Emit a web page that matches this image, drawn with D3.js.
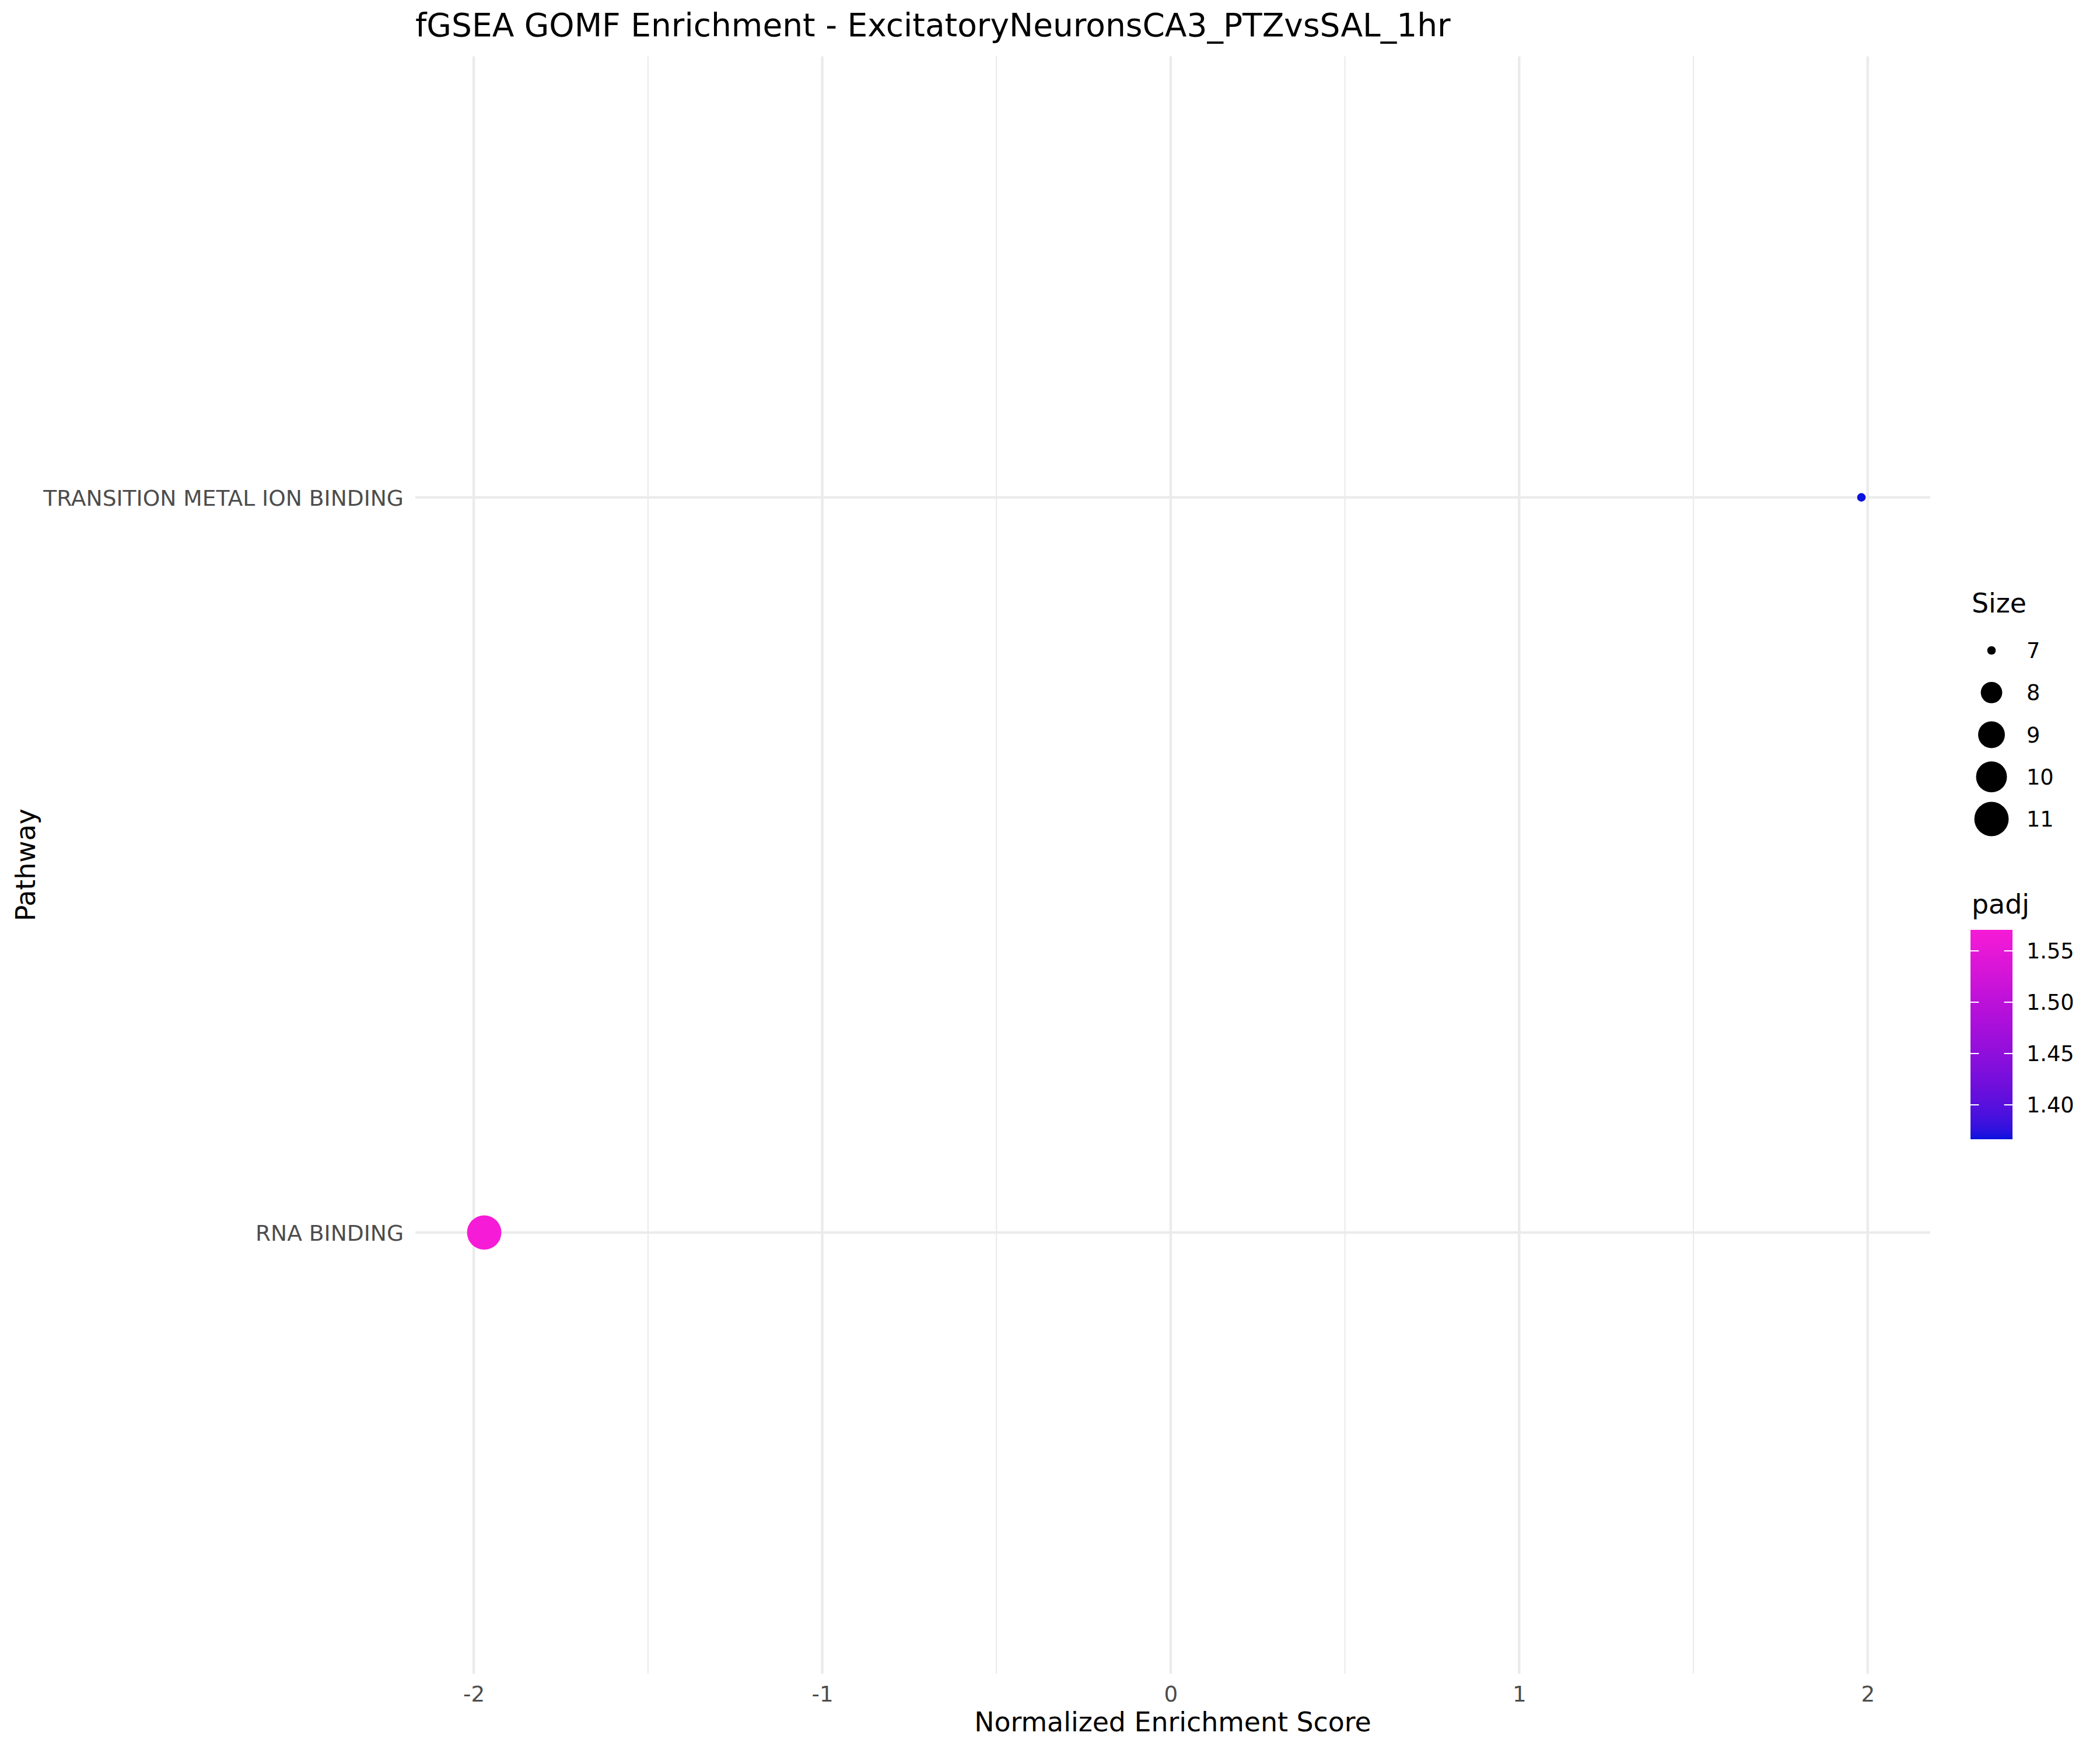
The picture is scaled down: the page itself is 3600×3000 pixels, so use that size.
<!DOCTYPE html>
<html>
<head>
<meta charset="utf-8">
<script src="https://cdn.jsdelivr.net/npm/d3@7"></script>
<style>
  html, body { margin: 0; padding: 0; background: #ffffff; }
  text { font-family: "DejaVu Sans", sans-serif; }
</style>
</head>
<body>
<svg id="chart" width="3600" height="3000"></svg>
<script>
// ---- data ----
const pathways = ["RNA BINDING", "TRANSITION METAL ION BINDING"];
const nes = [-1.97, 1.982];
const setSize = [11, 7];
const padj = [1.5705, 1.3665];
const xTicks = [-2, -1, 0, 1, 2];
const xTickLabels = ["-2", "-1", "0", "1", "2"];
const xMinorTicks = [-1.5, -0.5, 0.5, 1.5];
const sizeBreaks = [7, 8, 9, 10, 11];
const padjBreaks = [1.40, 1.45, 1.50, 1.55];
const padjLabels = ["1.40", "1.45", "1.50", "1.55"];
const titleText = "fGSEA GOMF Enrichment - ExcitatoryNeuronsCA3_PTZvsSAL_1hr";

const rows = pathways.map((p, i) => ({ pathway: p, nes: nes[i], size: setSize[i], padj: padj[i] }));

const svg = d3.select("#chart");
svg.append("rect").attr("width", 3600).attr("height", 3000).attr("fill", "#ffffff");

const panel = { left: 712, right: 3309, top: 96.5, bottom: 2869 };

// x scale with ggplot-like 5% expansion
const ext = d3.extent(nes);
const pad = (ext[1] - ext[0]) * 0.05;
const x = d3.scaleLinear().domain([ext[0] - pad, ext[1] + pad]).range([panel.left, panel.right]);
const y = d3.scalePoint().domain(pathways).range([panel.bottom, panel.top]).padding(0.6);

// size scale (ggplot area palette, range 1..6)
const sizeExt = d3.extent(setSize);
const sizeAes = d3.scaleSqrt().domain([0, 1]).range([1, 6]);
const pxPerPt = 300 / 72.27;
function radius(v) {
  const s = sizeAes((v - sizeExt[0]) / (sizeExt[1] - sizeExt[0]));
  const fontsize = s * 2.845276 + 0.5 * 3.779528 / 2;
  return 0.375 * fontsize * pxPerPt + 1.4;
}

// colour scale
const padjExt = d3.extent(padj);
const color = d3.scaleLinear().domain(padjExt).range(["#0B12DE", "#F61BD6"]).interpolate(d3.interpolateLab);

// ---- grid ----
const grid = svg.append("g");
grid.selectAll("line.minor").data(xMinorTicks).join("line")
  .attr("x1", d => x(d)).attr("x2", d => x(d))
  .attr("y1", panel.top).attr("y2", panel.bottom)
  .attr("stroke", "#EBEBEB").attr("stroke-width", 2.2);
grid.selectAll("line.majx").data(xTicks).join("line")
  .attr("x1", d => x(d)).attr("x2", d => x(d))
  .attr("y1", panel.top).attr("y2", panel.bottom)
  .attr("stroke", "#EBEBEB").attr("stroke-width", 4.4);
grid.selectAll("line.majy").data(pathways).join("line")
  .attr("x1", panel.left).attr("x2", panel.right)
  .attr("y1", d => y(d)).attr("y2", d => y(d))
  .attr("stroke", "#EBEBEB").attr("stroke-width", 4.4);

// ---- axes ----
const xAxis = d3.axisBottom(x).tickValues(xTicks).tickSize(0).tickPadding(0)
  .tickFormat((d, i) => xTickLabels[i]);
const gx = svg.append("g").attr("transform", `translate(0,${panel.bottom})`).call(xAxis);
gx.select(".domain").remove();
gx.selectAll("text").attr("font-size", 37.2).attr("fill", "#4D4D4D")
  .attr("font-family", "DejaVu Sans").attr("y", 48).attr("dy", 0);

const yAxis = d3.axisLeft(y).tickSize(0).tickPadding(0);
const gy = svg.append("g").attr("transform", `translate(${panel.left - 20},0)`).call(yAxis);
gy.select(".domain").remove();
gy.selectAll("text").attr("font-size", 37.6).attr("fill", "#4D4D4D")
  .attr("font-family", "DejaVu Sans").attr("x", 0).attr("dy", "0.36em");

// ---- points ----
svg.append("g").selectAll("circle").data(rows).join("circle")
  .attr("cx", d => x(d.nes)).attr("cy", d => y(d.pathway))
  .attr("r", d => radius(d.size))
  .attr("fill", d => color(d.padj));

// ---- titles ----
svg.append("text").attr("x", panel.left).attr("y", 62)
  .attr("font-size", 55).attr("fill", "#000").text(titleText);
svg.append("text").attr("x", (panel.left + panel.right) / 2).attr("y", 2968)
  .attr("text-anchor", "middle").attr("font-size", 45.8).attr("fill", "#000")
  .text("Normalized Enrichment Score");
svg.append("text")
  .attr("transform", `translate(60,${(panel.top + panel.bottom) / 2}) rotate(-90)`)
  .attr("text-anchor", "middle").attr("font-size", 45.8).attr("fill", "#000")
  .text("Pathway");

// ---- size legend ----
const lg = svg.append("g");
lg.append("text").attr("x", 3380).attr("y", 1050).attr("font-size", 45.8).attr("fill", "#000").text("Size");
const keyY = d3.scalePoint().domain(sizeBreaks).range([1115, 1404]);
lg.selectAll("circle").data(sizeBreaks).join("circle")
  .attr("cx", 3414).attr("cy", d => keyY(d)).attr("r", d => radius(d)).attr("fill", "#000");
lg.selectAll("text.lab").data(sizeBreaks).join("text").attr("class", "lab")
  .attr("x", 3474).attr("y", d => keyY(d)).attr("dy", "0.36em")
  .attr("font-size", 36.7).attr("fill", "#000").text(d => d);

// ---- colour legend ----
const cg = svg.append("g");
cg.append("text").attr("x", 3380).attr("y", 1566).attr("font-size", 45.8).attr("fill", "#000").text("padj");
const barX = 3378, barW = 72;
const cy = d3.scaleLinear().domain(padjExt).range([1953, 1594]);
const defs = svg.append("defs");
const grad = defs.append("linearGradient").attr("id", "padjGrad")
  .attr("x1", 0).attr("y1", 1).attr("x2", 0).attr("y2", 0);
d3.range(0, 1.0001, 0.05).forEach(t => {
  grad.append("stop").attr("offset", t)
    .attr("stop-color", color(padjExt[0] + t * (padjExt[1] - padjExt[0])));
});
cg.append("rect").attr("x", barX).attr("y", cy(padjExt[1])).attr("width", barW)
  .attr("height", cy(padjExt[0]) - cy(padjExt[1])).attr("fill", "url(#padjGrad)");
cg.selectAll("line.tl").data(padjBreaks).join("line")
  .attr("x1", barX).attr("x2", barX + barW / 5)
  .attr("y1", d => cy(d)).attr("y2", d => cy(d))
  .attr("stroke", "#fff").attr("stroke-width", 2);
cg.selectAll("line.tr").data(padjBreaks).join("line")
  .attr("x1", barX + barW * 4 / 5).attr("x2", barX + barW)
  .attr("y1", d => cy(d)).attr("y2", d => cy(d))
  .attr("stroke", "#fff").attr("stroke-width", 2);
cg.selectAll("text.lab").data(padjBreaks).join("text").attr("class", "lab")
  .attr("x", 3474).attr("y", d => cy(d)).attr("dy", "0.36em")
  .attr("font-size", 36.7).attr("fill", "#000").text((d, i) => padjLabels[i]);
</script>
</body>
</html>
